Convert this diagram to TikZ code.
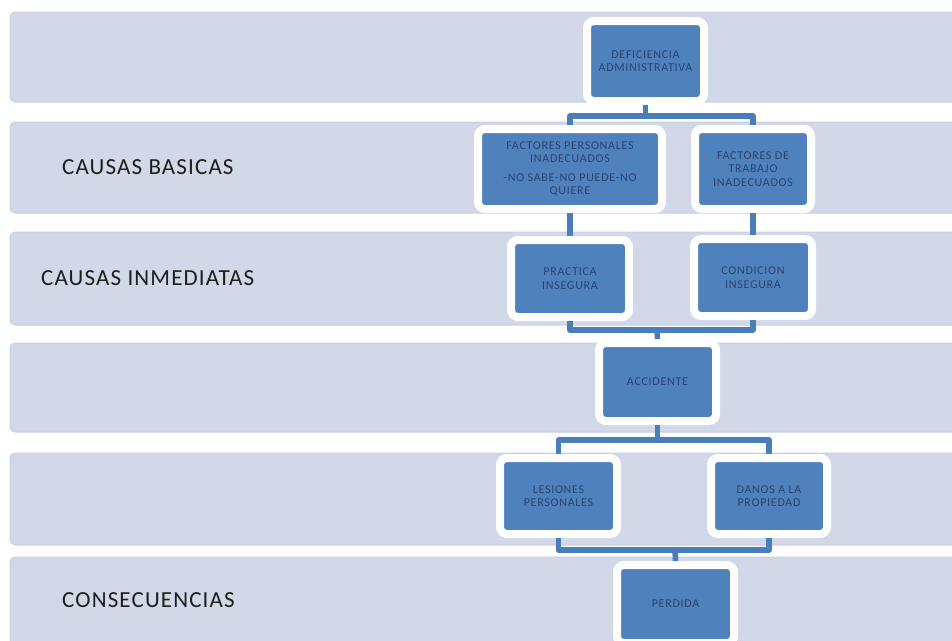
\documentclass[tikz,border=0pt]{standalone}
\usepackage{fontspec}
\setmainfont{Carlito}
\newfontfamily\lblfont[LetterSpace=5]{Carlito}
\newfontfamily\bxfont[LetterSpace=6]{Carlito}
\definecolor{bandc}{HTML}{D2D8E8}
\definecolor{banded}{HTML}{C6CFE4}
\definecolor{boxc}{HTML}{4F81BD}
\definecolor{boxtxt}{HTML}{2A4470}
\definecolor{connc}{HTML}{4A7EBB}
\definecolor{lblc}{HTML}{1E1E1E}
\begin{document}
\begin{tikzpicture}[x=1pt,y=-1pt,
  band/.style={fill=bandc, draw=banded, line width=1pt, rounded corners=5pt},
  bx/.style={rectangle, rounded corners=7pt, fill=boxc, draw=white, line width=8pt,
    inner sep=0pt, align=center, text=boxtxt,
    font=\bxfont\fontsize{12}{13.5}\selectfont},
  lbl/.style={anchor=west, text=lblc, inner sep=0pt, font=\lblfont\fontsize{23}{27}\selectfont},
  conn/.style={draw=connc, line width=5.5pt, line join=round}]
\useasboundingbox (0,0) rectangle (952,640);
\clip (0,0) rectangle (952,640);
% bands
\path[band] (10,12) rectangle (990,102);
\path[band] (10,122) rectangle (990,213);
\path[band] (10,232) rectangle (990,325);
\path[band] (10,343) rectangle (990,432);
\path[band] (10,453) rectangle (990,545);
\path[band] (10,557) rectangle (990,680);
% labels
\node[lbl] (l1) at (62,167) {CAUSAS BASICAS};
\node[lbl] (l2) at (41,278) {CAUSAS INMEDIATAS};
\node[lbl] (l3) at (62,600) {CONSECUENCIAS};
% boxes
\node[bx, minimum width=117pt, minimum height=80pt] (def) at (645.5,61) {DEFICIENCIA\\ADMINISTRATIVA};
\node[bx, minimum width=184pt, minimum height=80pt] (fp) at (570,169) {FACTORES PERSONALES\\INADECUADOS\\[5pt]-NO SABE-NO PUEDE-NO\\QUIERE};
\node[bx, minimum width=116pt, minimum height=80pt] (ft) at (753,169) {FACTORES DE\\TRABAJO\\INADECUADOS};
\node[bx, minimum width=118pt, minimum height=77pt] (pi) at (570,278.5) {PRACTICA\\INSEGURA};
\node[bx, minimum width=118pt, minimum height=77pt] (ci) at (753,277.5) {CONDICION\\INSEGURA};
\node[bx, minimum width=117pt, minimum height=78pt] (acc) at (657.5,382) {ACCIDENTE};
\node[bx, minimum width=117pt, minimum height=76pt] (les) at (558.5,496) {LESIONES\\PERSONALES};
\node[bx, minimum width=116pt, minimum height=76pt] (dan) at (769,496) {DANOS A LA\\PROPIEDAD};
\node[bx, minimum width=117pt, minimum height=78pt] (per) at (675.5,604) {PERDIDA};
% junctions
\coordinate (j1) at (645,116);
\coordinate (j2) at (657,330);
\coordinate (j3) at (657,440);
\coordinate (j4) at (675,550);
% connectors
\draw[conn] (def.south) -- (def.south |- j1) -| (fp.north);
\draw[conn] (def.south |- j1) -| (ft.north);
\draw[conn] (fp.south) -- (pi.north);
\draw[conn] (ft.south) -- (ci.north);
\draw[conn] (pi.south) |- (j2) -| (ci.south);
\draw[conn] (j2) -- (acc.north);
\draw[conn] (acc.south) -- (acc.south |- j3) -| (les.north);
\draw[conn] (acc.south |- j3) -| (dan.north);
\draw[conn] (les.south) |- (j4) -| (dan.south);
\draw[conn] (j4) -- (per.north);
\end{tikzpicture}
\end{document}
